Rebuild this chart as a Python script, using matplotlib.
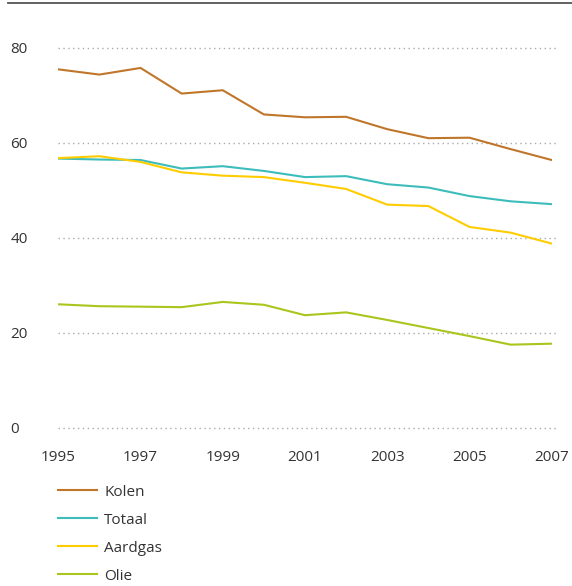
import matplotlib.pyplot as plt
from matplotlib.lines import Line2D

years = list(range(1995, 2008))
kolen = [75.5, 74.4, 75.8, 70.4, 71.1, 66.0, 65.4, 65.5, 62.9, 61.0, 61.1, 58.7, 56.4]
totaal = [56.7, 56.5, 56.4, 54.6, 55.1, 54.1, 52.8, 53.0, 51.3, 50.6, 48.8, 47.7, 47.1]
aardgas = [56.8, 57.2, 56.0, 53.8, 53.1, 52.8, 51.6, 50.3, 47.0, 46.7, 42.3, 41.1, 38.8]
olie = [26.0, 25.6, 25.5, 25.4, 26.5, 25.9, 23.7, 24.3, 22.7, 21.0, 19.3, 17.5, 17.7]

names = ['Kolen', 'Totaal', 'Aardgas', 'Olie']
colors = ['#c0762a', '#3dbcbc', '#ffcc00', '#a8c61c']
yticks = [0, 20, 40, 60, 80]
xticks = [1995, 1997, 1999, 2001, 2003, 2005, 2007]

plt.rcParams['font.family'] = ['Open Sans', 'DejaVu Sans']
txt = '#333333'
fs = 11

W, H = 572, 586
fig = plt.figure(figsize=(W / 100, H / 100), dpi=100)
ax = fig.add_axes([58.3 / W, (H - 427.7) / H, (551.7 - 58.3) / W, (427.7 - 48) / H])

series = [kolen, totaal, aardgas, olie]
handles = []
for vals, c, n in zip(series, colors, names):
    ln, = ax.plot(years, vals, color=c, lw=1.5, label=n)
    handles.append(ln)

ax.set_xlim(1995, 2007)
ax.set_ylim(0, 80)
for y in yticks:
    ax.plot([1995, 2007.1], [y, y], color='#aaaaaa', lw=1, ls=(0, (1, 2.5)),
            zorder=0, clip_on=False)

for s in ax.spines.values():
    s.set_visible(False)
ax.tick_params(length=0)
ax.set_yticks(yticks)
ax.set_yticklabels([str(v) for v in yticks], fontsize=fs, color=txt, ha='left')
ax.tick_params(axis='y', pad=34.5)
ax.set_xticks(xticks)
ax.set_xticklabels([str(v) for v in xticks], fontsize=fs, color=txt)
ax.tick_params(axis='x', pad=16)

# top rule
fig.add_artist(Line2D([8 / W, 1], [1 - 3 / H, 1 - 3 / H], color='#555555', lw=1.3))

fig.legend(handles=handles, loc='upper left', bbox_to_anchor=(50 / W, 1 - 477 / H),
           frameon=False, fontsize=fs, handlelength=2.55, handletextpad=0.5,
           labelspacing=0.85, labelcolor=txt, borderpad=0)

fig.savefig('out.png', dpi=100)
